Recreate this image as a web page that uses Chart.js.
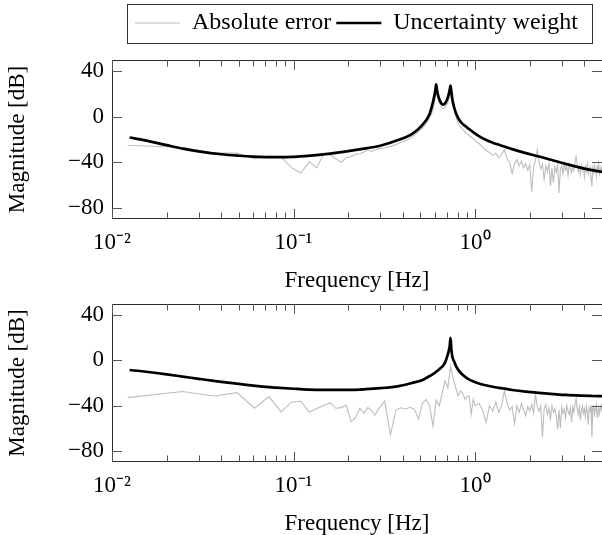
<!DOCTYPE html>
<html><head><meta charset="utf-8">
<script src="https://cdn.jsdelivr.net/npm/chart.js@4.4.0/dist/chart.umd.min.js"></script>
<style>
html,body{margin:0;padding:0;background:#fff;}
#wrap{position:relative;width:602px;height:535px;overflow:hidden;}
#c1{position:absolute;left:0;top:0;}
#c2{position:absolute;left:0;top:292px;}
</style></head><body>
<div id="wrap"><canvas id="c1" width="602" height="292"></canvas><canvas id="c2" width="602" height="243"></canvas></div>
<script>
const seriesNames = ['Absolute error', 'Uncertainty weight'];
const xTitle = 'Frequency [Hz]';
const yTitle = 'Magnitude [dB]';
const xTickValues = [0.01, 0.1, 1];
const xTickLabels = ['10\u207B\u00B2', '10\u207B\u00B9', '10\u2070'];
const yTickValues = [-80, -40, 0, 40];
const yTickLabels = ['\u221280', '\u221240', '0', '40'];

const errFreq = [
0.0122,0.0244,0.0366,0.0488,0.0610,0.0732,0.0854,0.0977,0.1099,0.1221,0.1343,0.1465,0.1587,0.1709,0.1831,0.1953,0.2075,0.2197,0.2319,0.2441,0.2563,0.2686,0.2808,0.2930,
0.3174,0.3418,0.3662,0.3906,0.4150,0.4395,0.4639,0.4883,0.5127,0.5371,0.5615,0.5859,0.6104,0.6348,0.6592,0.6836,0.7080,0.7324,0.7568,0.7813,0.8057,0.8301,0.8545,0.8789,0.9033,0.9277,0.9521,0.9766,1.0010,
1.05,1.10,1.15,1.20,1.25,1.30,1.35,1.40,1.45,1.50,
1.55,1.60,1.65,1.70,1.75,1.80,1.85,1.90,1.95,2.00,
2.05,2.10,2.15,2.20,2.25,2.30,2.35,2.40,2.45,2.50,
2.55,2.60,2.65,2.70,2.75,2.80,2.85,2.90,2.95,3.00,
3.05,3.10,3.15,3.20,3.25,3.30,3.35,3.40,3.45,3.50,
3.55,3.60,3.65,3.70,3.75,3.80,3.85,3.90,3.95,4.00,
4.05,4.10,4.15,4.20,4.25,4.30,4.35,4.40,4.45,4.50,
4.55,4.60,4.65,4.70,4.75,4.80,4.85,4.90,4.95,5.00
];
const errTop = [
-25,-27,-32,-32,-37,-34.5,-35.5,-45,-49.5,-39.5,-45,-32.5,-33.5,-37,-40,-36,-35,-33,-32.5,-31,-29,-30.5,-29.5,-28,
-27.5,-26,-24.5,-22.5,-21,-18.5,-16,-13,-10,-6,-1,6,23,13,7,8,12,22,10,1,-6,-9,-11,-13,-15,-16.5,-18,-19.5,-21,
-23.5,-27,-29.5,-31.5,-34,-32,-36,-33,-29,-37,
-40,-50,-41,-38,-43,-39,-45,-41,-47,-42,
-66,-44,-38,-29,-40,-46,-42,-55,-43,-48,
-41,-61,-45,-58,-44,-49,-42,-67,-46,-43,
-50,-41,-47,-44,-52,-42,-46,-49,-43,-47,
-40,-35,-42,-48,-44,-51,-43,-47,-45,-53,
-44,-48,-42,-50,-46,-44,-55,-61,-45,-49,
-43,-47,-52,-44,-48,-42,-50,-46,-44,-48
];
const errBottom = [
-33,-27.6,-31.5,-28.6,-42.4,-32,-45.6,-36.8,-36.2,-46,-42.5,-40,-37.4,-42.4,-41.8,-39.7,-54.4,-50.5,-42.4,-46.8,-41.8,-44,-48.6,-43.3,
-36,-66,-44,-42,-43,-41.5,-43.5,-52,-38,-34.5,-40.3,-58,-35,-40.3,-28.5,-18,-24,-5,-16,-24,-31.5,-27,-29,-34.4,-32,-31.5,-47.7,-34.4,-40.3,
-38,-44,-55,-40,-45,-37,-46,-40,-27,-38,
-44,-41,-56,-40,-46,-38,-44,-49,-41,-45,
-39,-47,-30,-41,-45,-40,-68,-43,-39,-48,
-42,-52,-40,-46,-43,-50,-61,-44,-60,-41,
-47,-43,-51,-40,-45,-48,-42,-55,-41,-46,
-39,-34,-43,-48,-41,-53,-44,-40,-47,-43,
-50,-41,-46,-57,-42,-45,-40,-68,-44,-41,
-48,-43,-39,-50,-44,-41,-47,-43,-40,-45
];
const weightFreq = [
0.0125,0.015,0.02,0.025,0.03,0.04,0.05,0.06,0.07,0.08,0.1,0.12,0.15,0.2,0.25,0.3,0.38,0.45,0.51,0.56,
0.58,0.59,0.6,0.605,0.61,0.615,0.62,0.63,0.645,0.665,0.685,0.7,0.715,0.725,0.732,0.74,0.75,0.767,0.79,0.817,
0.85,0.889,0.93,0.967,1.05,1.144,1.25,1.355,1.6,1.9,2.25,2.7,3.15,3.8,4.4,5.0
];
const weightTop = [
-18.2,-20.5,-25,-28.3,-30.4,-33,-34.3,-35.1,-35.5,-35.6,-35.3,-34.5,-32.9,-30.2,-27.8,-25.5,-20.3,-15,-7.5,2,
10,15,20.5,24.5,28.5,25,21.5,17,13,10.6,12,15,19.5,24,27.5,22,15,8,2,-2.6,
-6,-8.5,-11,-13,-17,-20.3,-22.8,-24.7,-28.5,-32,-35,-38.5,-41.5,-44.8,-47,-48.5
];
const weightBottom = [
-8.5,-9.8,-12.3,-14.5,-16.3,-19,-20.8,-22.3,-23.4,-24.1,-25.1,-25.8,-26.1,-26.1,-25.5,-24.6,-22.7,-20,-17.5,-14,
-12.5,-11.7,-11,-10.5,-10,-9.6,-9.2,-8.3,-6.8,-4.8,-1.5,3,8,13,20,10,3,-1,-6,-9.5,
-12.5,-15,-17,-18.3,-20.5,-22,-23.3,-24.3,-26.2,-27.7,-28.8,-29.8,-30.6,-31.2,-31.5,-31.7
];

const FONT = '"Liberation Serif", "Times New Roman", serif';
const FS = 23;
const LFS = 24;

const framePlugin = {
  id: 'frame',
  afterDatasetsDraw(chart) {
    const {ctx, chartArea: a, scales} = chart;
    const x = scales.x, y = scales.y;
    ctx.save();
    ctx.strokeStyle = '#2a2a2a';
    ctx.lineWidth = 1;
    ctx.beginPath();
    ctx.moveTo(a.left, a.top + 0.5); ctx.lineTo(a.right + 1, a.top + 0.5);
    ctx.moveTo(a.left + 0.5, a.top); ctx.lineTo(a.left + 0.5, a.bottom);
    ctx.moveTo(a.left, a.bottom - 0.5); ctx.lineTo(a.right + 1, a.bottom - 0.5);
    ctx.moveTo(a.right + 0.5, a.top); ctx.lineTo(a.right + 0.5, a.bottom);
    ctx.stroke();
    ctx.strokeStyle = '#555';
    ctx.beginPath();
    for (let e = -2; e <= 0; e++) {
      for (let m = 1; m <= 9; m++) {
        const v = m * Math.pow(10, e);
        if (v < x.min * 0.999 || v > x.max * 1.001) continue;
        const px = Math.round(x.getPixelForValue(v)) + 0.5;
        const len = m === 1 ? 10 : 6.5;
        ctx.moveTo(px, a.bottom); ctx.lineTo(px, a.bottom - len);
        ctx.moveTo(px, a.top); ctx.lineTo(px, a.top + len);
      }
    }
    for (const v of yTickValues) {
      const py = Math.round(y.getPixelForValue(v)) + 0.5;
      ctx.moveTo(a.left, py); ctx.lineTo(a.left + 10, py);
      ctx.moveTo(a.right, py); ctx.lineTo(a.right - 10, py);
    }
    ctx.stroke();
    ctx.restore();
  }
};

const legendFrame = {
  id: 'legendFrame',
  afterLayout(chart) {
    const lg = chart.legend;
    if (!lg || !lg.options.display) return;
    const h = lg.bottom - lg.top;
    const w = lg.right - lg.left;
    lg.top = 6; lg.bottom = 6 + h;
    lg.left = 130; lg.right = 130 + w;
  },
  afterDraw(chart) {
    const lg = chart.legend;
    if (!lg || !lg.options.display || !lg.legendHitBoxes || !lg.legendHitBoxes.length) return;
    const hb = lg.legendHitBoxes;
    const first = hb[0], last = hb[hb.length - 1];
    const l = Math.round(first.left - 8), r = Math.round(last.left + last.width + 14);
    const t = Math.round(first.top - 7), b = Math.round(first.top + first.height + 8);
    const ctx = chart.ctx;
    ctx.save();
    ctx.strokeStyle = '#333';
    ctx.lineWidth = 1;
    ctx.strokeRect(l + 0.5, t + 0.5, r - l, b - t);
    ctx.restore();
  }
};

function makeChart(canvas, errVals, weightVals, showLegend, padTop) {
  return new Chart(canvas, {
    type: 'line',
    data: {
      datasets: [
        {
          label: seriesNames[0],
          data: errFreq.map((f, i) => ({x: f, y: errVals[i]})),
          borderColor: '#bdbdbd', borderWidth: 1.1,
          pointRadius: 0, pointStyle: 'line', pointBorderWidth: 1.1,
          tension: 0, order: 2
        },
        {
          label: seriesNames[1],
          data: weightFreq.map((f, i) => ({x: f, y: weightVals[i]})),
          borderColor: '#000', borderWidth: 2.7,
          pointRadius: 0, pointStyle: 'line', pointBorderWidth: 2.7,
          cubicInterpolationMode: 'monotone', borderJoinStyle: 'round', order: 1
        }
      ]
    },
    options: {
      responsive: false, animation: false, devicePixelRatio: 1,
      layout: {padding: {top: padTop, left: 0, right: 0, bottom: 0}},
      plugins: {
        legend: {
          display: showLegend, align: 'start',
          labels: {
            usePointStyle: true, pointStyleWidth: 45, padding: 5, color: '#000',
            font: {family: FONT, size: LFS},
            sort: (a, b) => a.datasetIndex - b.datasetIndex
          }
        },
        tooltip: {enabled: false}
      },
      scales: {
        x: {
          type: 'logarithmic', min: 0.01, max: 5,
          grid: {display: false, drawTicks: false}, border: {display: false},
          afterBuildTicks: s => { s.ticks = xTickValues.map(v => ({value: v})); },
          afterFit: s => { s.height = 73; s.paddingLeft = 0; s.paddingRight = 0; },
          ticks: {
            autoSkip: false, maxRotation: 0, minRotation: 0, padding: 10, color: '#000',
            font: {family: FONT, size: FS},
            callback: v => { const i = xTickValues.indexOf(v); return i >= 0 ? xTickLabels[i] : ''; }
          },
          title: {display: true, text: xTitle, color: '#000', font: {family: FONT, size: FS}, padding: {top: 0, bottom: -3}}
        },
        y: {
          min: -90, max: 50,
          grid: {display: false, drawTicks: false}, border: {display: false},
          afterBuildTicks: s => { s.ticks = yTickValues.map(v => ({value: v})); },
          afterFit: s => { s.width = 112; s.paddingTop = 0; s.paddingBottom = 0; },
          ticks: {
            padding: 8, color: '#000', font: {family: FONT, size: FS},
            callback: v => { const i = yTickValues.indexOf(v); return i >= 0 ? yTickLabels[i] : ''; }
          },
          title: {display: true, text: yTitle, color: '#000', font: {family: FONT, size: FS}, padding: {top: 4, bottom: 0}}
        }
      }
    },
    plugins: [framePlugin, legendFrame]
  });
}

makeChart(document.getElementById('c1'), errTop, weightTop, true, 21);
makeChart(document.getElementById('c2'), errBottom, weightBottom, false, 12);
</script>
</body></html>
